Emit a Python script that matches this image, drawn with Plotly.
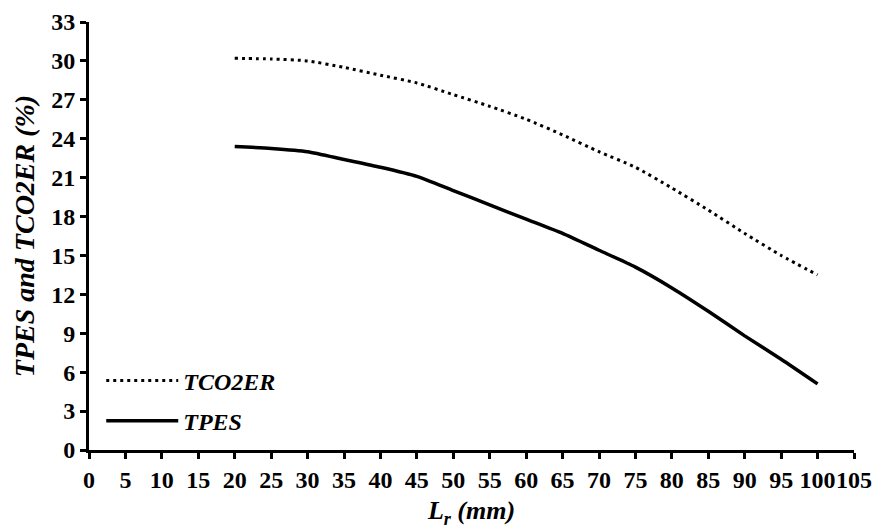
import plotly.graph_objects as go

# Reflector length (mm) and the two savings curves (%)
lr_mm = [20, 25, 30, 35, 40, 45, 50, 55, 60, 65, 70, 75, 80, 85, 90, 95, 100]
tco2er = [30.2, 30.15, 30.0, 29.5, 28.9, 28.3, 27.4, 26.5, 25.5, 24.3, 23.0, 21.8, 20.2, 18.5, 16.7, 15.0, 13.5]
tpes = [23.4, 23.25, 23.0, 22.4, 21.8, 21.1, 20.0, 18.9, 17.8, 16.7, 15.4, 14.1, 12.5, 10.7, 8.8, 7.0, 5.1]

x_ticks = list(range(0, 106, 5))
y_ticks = list(range(0, 34, 3))

FONT = "Liberation Serif"

fig = go.Figure()
fig.add_trace(go.Scatter(
    x=lr_mm, y=tco2er, name="<b><i>TCO2ER</i></b>", mode="lines", legendgroup="a",
    line=dict(color="black", width=3, dash="3px,4px", shape="spline", smoothing=0.6),
))
fig.add_trace(go.Scatter(
    x=lr_mm, y=tpes, name="<b><i>TPES</i></b>", mode="lines", legendgroup="b",
    line=dict(color="black", width=3.5, shape="spline", smoothing=0.6),
))

axis_common = dict(
    showline=True, linecolor="black", linewidth=3,
    ticks="outside", ticklen=6, tickwidth=3, tickcolor="black",
    showgrid=False, zeroline=False, automargin=False, tickangle=0,
    tickfont=dict(family=FONT, size=24, color="black"),
)

fig.update_layout(
    width=875, height=529,
    margin=dict(l=89, r=21, t=22, b=79),
    paper_bgcolor="white", plot_bgcolor="white",
    xaxis=dict(
        range=[0, 105], tickvals=x_ticks, ticktext=[f"<b>{v}</b>" for v in x_ticks],
        title=dict(text="<b><i>L<sub>r</sub> (mm)</i></b>", standoff=10,
                   font=dict(family=FONT, size=26, color="black")),
        **axis_common,
    ),
    yaxis=dict(
        range=[0, 33], tickvals=y_ticks, ticktext=[f"<b>{v}</b>" for v in y_ticks],
        title=dict(text="<b><i>TPES and TCO2ER (%)</i></b>", standoff=9,
                   font=dict(family=FONT, size=28, color="black")),
        **axis_common,
    ),
    legend=dict(
        x=0.016, y=0.214, xanchor="left", yanchor="top",
        bgcolor="rgba(0,0,0,0)", traceorder="grouped", tracegroupgap=6,
        itemwidth=72,
        font=dict(family=FONT, size=24, color="black"),
    ),
    showlegend=True,
)

fig.write_html("out.html")
